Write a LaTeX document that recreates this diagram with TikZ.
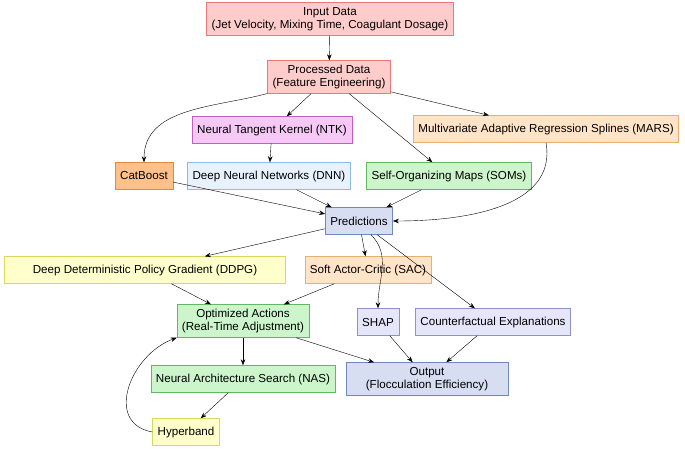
\documentclass[tikz,border=0pt]{standalone}
\usepackage{fontspec}
\setmainfont{Liberation Sans}
\usetikzlibrary{arrows.meta,positioning}

\definecolor{redfill}{HTML}{FFCCCC}\definecolor{redline}{HTML}{E87A7A}
\definecolor{pinkfill}{HTML}{F5C8F5}\definecolor{pinkline}{HTML}{C060C0}
\definecolor{orfill}{HTML}{FFE4C8}\definecolor{orline}{HTML}{E8B070}
\definecolor{catfill}{HTML}{FFC08A}\definecolor{catline}{HTML}{E08A40}
\definecolor{bluefill}{HTML}{E8F2FF}\definecolor{blueline}{HTML}{90B8E8}
\definecolor{grfill}{HTML}{CCF5CC}\definecolor{grline}{HTML}{60B860}
\definecolor{lavfill}{HTML}{D8DEF2}\definecolor{lavline}{HTML}{7088C0}
\definecolor{yelfill}{HTML}{FFFFCC}\definecolor{yelline}{HTML}{D8D860}
\definecolor{cffill}{HTML}{E6E6FA}\definecolor{cfline}{HTML}{9090D0}

\begin{document}
\begin{tikzpicture}
			[
				x=1pt, y=-1pt,
				align=center,
				font=\fontsize{11.6}{13.5}\selectfont,
				box/.style={draw, rectangle, inner xsep=5pt, minimum height=27pt},
				tall/.style={box, minimum height=33pt, inner ysep=2pt},
				arrow/.style={-{Stealth[length=6pt,width=4.5pt]}, black}
			]
			\useasboundingbox (0,0) rectangle (685,448);

			% boxes
			\node[tall,fill=redfill,draw=redline] (input) at (330,19) {Input Data\\(Jet Velocity, Mixing Time, Coagulant Dosage)};
			\node[tall,fill=redfill,draw=redline] (proc) at (329,77) {Processed Data\\(Feature Engineering)};
			\node[box,fill=pinkfill,draw=pinkline] (ntk) at (272,130) {Neural Tangent Kernel (NTK)};
			\node[box,fill=orfill,draw=orline] (mars) at (546,129) {Multivariate Adaptive Regression Splines (MARS)};
			\node[box,fill=catfill,draw=catline] (cat) at (144,176) {CatBoost};
			\node[box,fill=bluefill,draw=blueline] (dnn) at (269,176) {Deep Neural Networks (DNN)};
			\node[box,fill=grfill,draw=grline] (som) at (449,176) {Self-Organizing Maps (SOMs)};
			\node[box,fill=lavfill,draw=lavline] (pred) at (359,221) {Predictions};
			\node[box,fill=yelfill,draw=yelline,minimum width=281pt] (ddpg) at (145,270) {Deep Deterministic Policy Gradient (DDPG)};
			\node[box,fill=orfill,draw=orline] (sac) at (368,270) {Soft Actor-Critic (SAC)};
			\node[tall,fill=grfill,draw=grline] (opt) at (243,321) {Optimized Actions\\(Real-Time Adjustment)};
			\node[box,fill=cffill,draw=cfline] (shap) at (378,322) {SHAP};
			\node[box,fill=cffill,draw=cfline] (cf) at (493,322) {Counterfactual Explanations};
			\node[box,fill=grfill,draw=grline] (nas) at (243,379) {Neural Architecture Search (NAS)};
			\node[tall,fill=lavfill,draw=lavline,minimum width=162pt] (out) at (427,379) {Output\\(Flocculation Efficiency)};
			\node[box,fill=yelfill,draw=yelline] (hyper) at (186,432) {Hyperband};

			% connectors
			\foreach \from/\to in {input/proc,proc/ntk,proc/som,proc/mars,ntk/dnn,cat/pred,dnn/pred,som/pred,
				pred/ddpg,pred/sac,pred/cf,ddpg/opt,sac/opt,opt/nas,opt/out,shap/out,cf/out,nas/hyper}
			\draw[arrow] (\from) -- (\to);

			\draw[arrow] (proc) to [out=195,in=90] (cat.north);
			\draw[arrow] (mars.south) to [out=-80,in=0] (pred.east);
			\draw[arrow] ([xshift=12pt]pred.south) to [out=-45,in=90] (shap.north);
			\draw[arrow] (hyper.west) to [out=170,in=200,looseness=1.3] (opt.south west);

		\end{tikzpicture}
\end{document}
